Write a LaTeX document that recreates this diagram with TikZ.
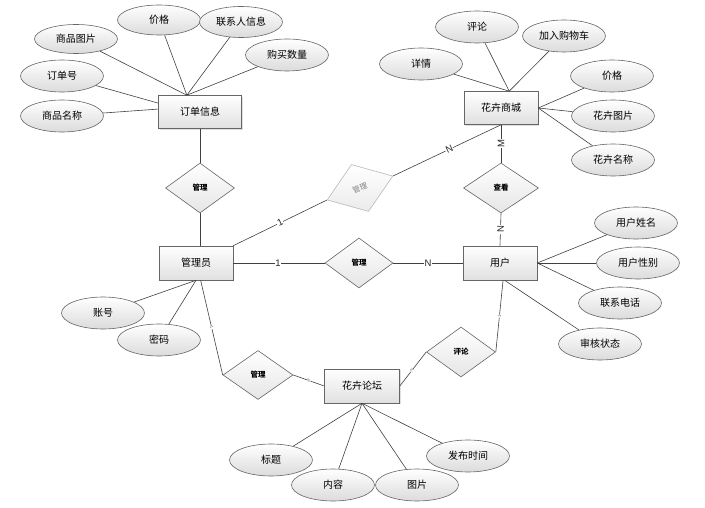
\documentclass[tikz,border=0pt]{standalone}
\usepackage{fontspec}
\setmainfont{Liberation Sans}
\newfontfamily\cjk{Noto Sans CJK SC}
\usetikzlibrary{shapes.geometric,shadows}
\begin{document}
\begin{tikzpicture}[x=1pt,y=-1pt,
  ent/.style={draw=black!60, line width=0.6pt, top color=white, bottom color=black!12,
    minimum width=74pt, minimum height=34pt, inner sep=0pt,
    font=\cjk\fontsize{10}{12}\selectfont,
    drop shadow={shadow xshift=1.2pt,shadow yshift=-1.2pt,opacity=0.25}},
  attr/.style={ellipse, draw=black!60, line width=0.6pt, top color=white, bottom color=black!14,
    minimum width=83pt, minimum height=32pt, inner sep=0pt,
    font=\cjk\fontsize{10}{12}\selectfont},
  rel/.style={diamond, draw=black!60, line width=0.6pt, top color=white, bottom color=black!10,
    minimum width=69pt, minimum height=50pt, inner sep=0pt,
    font=\cjk\bfseries\fontsize{7.5}{9}\selectfont},
  ln/.style={draw=black!75, line width=0.6pt},
  card/.style={font=\fontsize{9.5}{10}\selectfont, fill=white, inner sep=0.6pt, text=black!85},
  tinylab/.style={font=\fontsize{4.5}{5}\selectfont, text=black!55, fill=white, inner sep=0.3pt}
]
\useasboundingbox (0,0) rectangle (705,508);

% entities
\node[ent, minimum width=83pt, minimum height=33pt] (dd) at (200,112) {订单信息};
\node[ent, minimum height=33pt] (sc) at (501,108) {花卉商城};
\node[ent] (gly) at (196,263) {管理员};
\node[ent] (yh) at (500,263) {用户};
\node[ent, minimum width=75pt] (lt) at (362,386) {花卉论坛};

% relationships
\node[rel] (r1) at (200,188) {管理};
\node[rel, minimum width=75pt] (r2) at (501,188) {查看};
\node[rel, minimum width=68pt] (r3) at (359,263) {管理};
\node[rel, minimum width=70pt, minimum height=49pt] (r4) at (258,375) {管理};
\node[rel] (r5) at (461,352) {评论};
\node[rel, draw=black!28, text=black!50, top color=white, bottom color=black!8,
  minimum width=70pt, minimum height=50pt, rotate=20,
  font=\cjk\fontsize{7.5}{9}\selectfont] (r6) at (360,188) {管理};

% attributes of 订单信息
\node[attr, minimum height=29pt] (a1) at (76,39) {商品图片};
\node[attr, minimum height=30pt] (a2) at (159,20) {价格};
\node[attr, minimum height=31pt] (a3) at (241,22) {联系人信息};
\node[attr] (a4) at (287,55) {购买数量};
\node[attr] (a5) at (62,76) {订单号};
\node[attr] (a6) at (62,116) {商品名称};

% attributes of 花卉商城
\node[attr] (b1) at (477,27) {评论};
\node[attr] (b2) at (564,36) {加入购物车};
\node[attr] (b3) at (421,64) {详情};
\node[attr] (b4) at (612,76) {价格};
\node[attr] (b5) at (613,116) {花卉图片};
\node[attr] (b6) at (613,160) {花卉名称};

% attributes of 用户
\node[attr] (c1) at (636,223) {用户姓名};
\node[attr] (c2) at (638,263) {用户性别};
\node[attr] (c3) at (620,303) {联系电话};
\node[attr] (c4) at (600,344) {审核状态};

% attributes of 管理员
\node[attr] (d1) at (103,313) {账号};
\node[attr] (d2) at (159,340) {密码};

% attributes of 花卉论坛
\node[attr] (e1) at (271,460) {标题};
\node[attr] (e2) at (333,485) {内容};
\node[attr] (e3) at (417,485) {图片};
\node[attr] (e4) at (468,456) {发布时间};

% attribute connectors
\foreach \n in {a1,a2,a3,a4} \draw[ln] (\n) -- (dd.128);
\draw[ln] (a5) -- (dd.168);
\draw[ln] (a6) -- (dd.176);
\foreach \n in {b1,b2,b3} \draw[ln] (\n) -- (sc.64);
\foreach \n in {b4,b5,b6} \draw[ln] (\n) -- (sc.east);
\foreach \n in {c1,c2,c3} \draw[ln] (\n) -- (yh.east);
\draw[ln] (c4) -- (yh.-75);
\foreach \n in {d1,d2} \draw[ln] (\n) -- (gly.south);
\foreach \n in {e1,e2,e3,e4} \draw[ln] (\n) -- (lt.south);

% relationship connectors
\draw[ln] (dd.south) -- (r1.north);
\draw[ln] (r1.south) -- (r1.south |- gly.north);
\draw[ln] (gly.north east) -- node[card, sloped, pos=0.5] {1} (r6.west);
\draw[ln] (r6.east) -- node[card, sloped, pos=0.52] {N} (sc.south);
\draw[ln] (sc.south) -- node[card, rotate=90, pos=0.5] {M} (r2.north);
\draw[ln] (r2.south) -- node[card, rotate=90, pos=0.5] {N} (yh.north);
\draw[ln] (gly.east) -- node[card, pos=0.49] {1} (r3.west);
\draw[ln] (r3.east) -- node[card, pos=0.5] {N} (yh.west);
\draw[ln] (gly.-75) -- node[tinylab, sloped, pos=0.5] {1} (r4.west);
\draw[ln] (r4.east) -- node[tinylab, sloped, pos=0.5] {N} (lt.west);
\draw[ln] (lt.east) -- node[tinylab, sloped, pos=0.46] {N} (r5.west);
\draw[ln] (r5.east) -- node[tinylab, sloped, pos=0.5] {1} (yh.-80);
\end{tikzpicture}
\end{document}
